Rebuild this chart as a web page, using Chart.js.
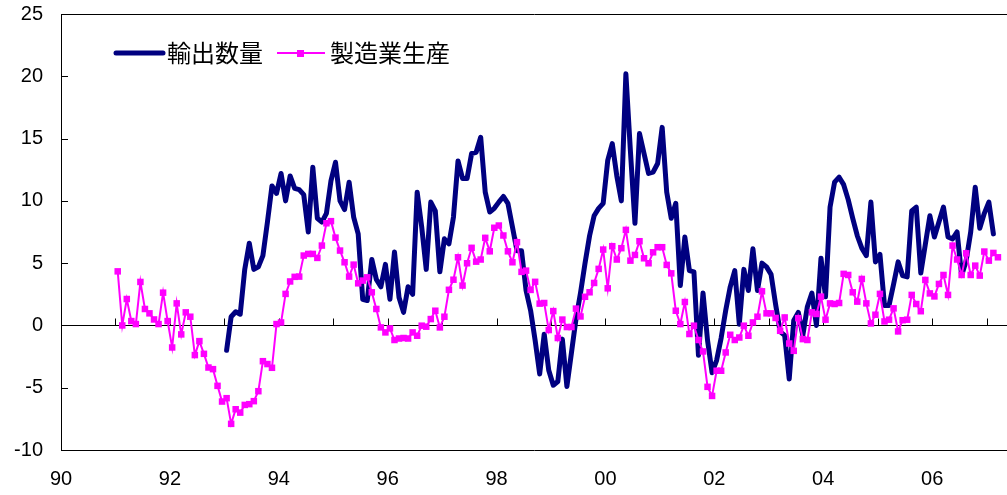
<!DOCTYPE html>
<html lang="ja">
<head>
<meta charset="utf-8">
<script src="https://cdn.jsdelivr.net/npm/chart.js@4.4.1/dist/chart.umd.min.js"></script>
<style>
  html, body { margin: 0; padding: 0; background: #fff; }
</style>
</head>
<body>
<canvas id="exportChart" width="1007" height="495"></canvas>
<script>
// 月次データ（前年比、%）。月の番号は 1990年1月 = 0
const seriesNames = ['輸出数量', '製造業生産'];
const exportStartMonth = 36;       // 1993年1月
const productionStartMonth = 12;   // 1991年1月

const exportVolume = [
  -2.0, 0.7, 1.1, 0.9, 4.5, 6.6, 4.5, 4.7, 5.6, 8.3, 11.2, 10.6,
  12.2, 10.0, 12.0, 11.0, 10.9, 10.5, 7.5, 12.7, 8.6, 8.3, 9.0, 11.6,
  13.1, 10.0, 9.3, 11.5, 8.7, 7.35, 2.1, 2.0, 5.3, 3.7, 3.1, 4.9,
  2.1, 5.9, 2.25, 1.05, 3.1, 2.5, 10.7, 7.9, 4.5, 9.9, 9.2, 4.3,
  6.95, 6.55, 8.7, 13.2, 11.8, 11.8, 13.8, 13.9, 15.1, 10.7, 9.1, 9.4,
  9.9, 10.35, 9.8, 7.9, 6.0, 6.0, 2.8, 1.2, -1.2, -3.9, -0.7, -3.6,
  -4.8, -4.5, -1.1, -4.9, -2.2, 0.5, 2.6, 5.0, 7.2, 8.8, 9.4, 9.8,
  13.25, 14.6, 12.0, 10.0, 20.2, 14.0, 8.2, 15.4, 13.8, 12.2, 12.3, 13.0,
  15.9, 10.7, 8.6, 9.8, 3.2, 7.1, 4.4, 4.3, -2.4, 2.6, -1.2, -3.8,
  -2.8, -1.0, 1.2, 3.1, 4.4, 0.1, 4.5, 2.8, 6.15, 2.8, 5.0, 4.7,
  4.1, 1.7, -0.5, -0.8, -4.3, 0.4, 1.05, -0.8, 1.5, 2.6, 0.0, 5.4,
  2.3, 9.5, 11.5, 11.9, 11.3, 10.1, 8.6, 7.2, 6.2, 5.6, 9.9, 5.1,
  5.7, 1.6, 1.6, 3.3, 5.1, 4.0, 3.9, 9.2, 9.5, 4.2, 6.5, 8.8,
  7.1, 8.3, 9.5, 7.1, 6.95, 7.5, 4.0, 5.2, 7.5, 11.1, 7.8, 9.0,
  9.9, 7.35
];

const production = [
  4.34, 0.0, 2.12, 0.35, 0.11, 3.49, 1.32, 0.97, 0.48, 0.11, 2.63, 0.35,
  -1.77, 1.77, -0.72, 1.05, 0.70, -2.38, -1.26, -2.28, -3.38, -3.51, -4.85, -6.11,
  -5.84, -7.9, -6.73, -7.0, -6.38, -6.32, -6.08, -5.28, -2.87, -3.1, -3.4, 0.11,
  0.24, 2.53, 3.53, 3.9, 3.92, 5.61, 5.74, 5.74, 5.42, 6.41, 8.2, 8.37,
  7.05, 6.01, 5.07, 3.92, 4.88, 3.38, 3.6, 3.86, 2.66, 1.32, -0.16, -0.56,
  -0.24, -1.17, -1.05, -1.01, -1.05, -0.56, -0.83, -0.02, -0.1, 0.51, 1.18, -0.16,
  0.7, 2.86, 3.67, 5.47, 3.2, 4.99, 6.23, 5.12, 5.29, 7.03, 5.95, 7.84,
  8.02, 7.22, 5.95, 5.07, 6.68, 4.3, 4.4, 2.85, 3.5, 1.75, 1.8, -0.37,
  1.15, -1.01, 0.47, -0.13, -0.13, 1.35, 0.72, 2.3, 2.66, 3.41, 4.54, 6.09,
  2.98, 6.36, 5.29, 6.2, 7.67, 5.2, 5.66, 6.76, 5.39, 4.99, 5.87, 6.28,
  6.28, 4.86, 4.18, 1.18, 0.11, 1.88, -0.69, -0.02, -1.17, -2.09, -4.93, -5.66,
  -3.64, -3.64, -2.17, -0.75, -1.17, -0.97, -0.02, -0.83, 0.24, 0.7, 2.74, 0.97,
  0.97, 0.6, -0.43, 0.64, -1.45, -2.04, 0.58, -1.1, -1.17, 1.05, 0.92, 2.31,
  0.46, 1.77, 1.72, 1.8, 4.14, 4.05, 2.66, 1.91, 3.73, 1.77, 0.16, 0.86,
  2.53, 0.32, 0.46, 1.37, -0.48, 0.42, 0.46, 2.45, 1.72, 1.14, 3.65, 2.57,
  2.33, 3.33, 4.05, 2.45, 6.41, 5.29, 4.05, 5.79, 4.05, 4.8, 4.0, 5.93,
  5.2, 5.82, 5.47
];

const xTickMonths = [0, 24, 48, 72, 96, 120, 144, 168, 192];
const xTickLabels = ['90', '92', '94', '96', '98', '00', '02', '04', '06'];
const yearMarkMonths = [12, 24, 36, 48, 60, 72, 84, 96, 108, 120, 132, 144, 156, 168, 180, 192, 204];

const NAVY = '#000080';
const MAGENTA = '#ff00ff';
const TICK_FONT = { family: '"Liberation Sans", Arial, sans-serif', size: 20 };

// 各月の点はその月の中央に置く
function toPoints(values, startMonth) {
  return values.map((v, i) => ({ x: startMonth + i + 0.5, y: v }));
}

// 目盛りラベルの余白で描画域が縮まないようにする
function noScalePadding(s) {
  s.paddingLeft = 0;
  s.paddingRight = 0;
  s.paddingTop = 0;
  s.paddingBottom = 0;
}

// 軸の内向き目盛りと凡例
const decorations = {
  id: 'decorations',
  beforeDatasetsDraw(chart) {
    const { ctx, chartArea } = chart;
    const xs = chart.scales.x, ys = chart.scales.y;
    ctx.save();
    ctx.strokeStyle = '#000';
    ctx.lineWidth = 1;
    ctx.beginPath();
    ys.ticks.forEach(t => {
      const py = Math.round(ys.getPixelForValue(t.value)) + 0.5;
      ctx.moveTo(chartArea.left, py);
      ctx.lineTo(chartArea.left + 7, py);
    });
    const zeroY = Math.round(ys.getPixelForValue(0)) + 0.5;
    yearMarkMonths.forEach(m => {
      const px = Math.round(xs.getPixelForValue(m)) + 0.5;
      ctx.moveTo(px, zeroY);
      ctx.lineTo(px, zeroY - 7);
    });
    ctx.stroke();
    ctx.restore();
  },
  afterDraw(chart) {
    const ctx = chart.ctx;
    const y = 53;
    ctx.save();
    ctx.lineCap = 'round';
    ctx.strokeStyle = NAVY;
    ctx.lineWidth = 5;
    ctx.beginPath();
    ctx.moveTo(116, y);
    ctx.lineTo(163, y);
    ctx.stroke();
    ctx.lineCap = 'butt';
    ctx.strokeStyle = MAGENTA;
    ctx.lineWidth = 2;
    ctx.beginPath();
    ctx.moveTo(277, y);
    ctx.lineTo(325, y);
    ctx.stroke();
    ctx.fillStyle = MAGENTA;
    ctx.fillRect(297, y - 3, 7, 7);
    ctx.fillStyle = '#000';
    ctx.font = '24px "Noto Sans CJK JP"';
    ctx.textBaseline = 'middle';
    ctx.textAlign = 'left';
    ctx.fillText(seriesNames[0], 167, y);
    ctx.fillText(seriesNames[1], 330, y);
    ctx.restore();
  }
};

const ctx = document.getElementById('exportChart').getContext('2d');
new Chart(ctx, {
  type: 'line',
  data: {
    datasets: [
      {
        label: seriesNames[0],
        data: toPoints(exportVolume, exportStartMonth),
        borderColor: NAVY,
        borderWidth: 5,
        borderJoinStyle: 'round',
        borderCapStyle: 'round',
        pointRadius: 0,
        tension: 0,
        order: 2
      },
      {
        label: seriesNames[1],
        data: toPoints(production, productionStartMonth),
        borderColor: MAGENTA,
        backgroundColor: MAGENTA,
        borderWidth: 2,
        pointStyle: 'rect',
        pointRadius: 4.6,
        pointBorderWidth: 0,
        pointBackgroundColor: MAGENTA,
        tension: 0,
        order: 1
      }
    ]
  },
  options: {
    responsive: false,
    animation: false,
    layout: { autoPadding: false, padding: { top: 14, left: 0, right: 0, bottom: 0 } },
    plugins: {
      legend: { display: false },
      tooltip: { enabled: false }
    },
    scales: {
      x: {
        type: 'linear',
        min: 0,
        max: 208.5,
        grid: {
          display: true,
          drawOnChartArea: false,
          drawTicks: true,
          tickLength: 17,
          tickColor: 'rgba(0,0,0,0)'
        },
        border: { display: true, color: '#000', width: 1 },
        afterBuildTicks: s => { s.ticks = xTickMonths.map(v => ({ value: v })); },
        afterFit: s => { s.height = 45; noScalePadding(s); },
        ticks: {
          autoSkip: false,
          maxRotation: 0,
          padding: 0,
          color: '#000',
          font: TICK_FONT,
          callback: (value, index) => xTickLabels[index]
        }
      },
      y: {
        min: -10,
        max: 25,
        afterFit: s => { s.width = 61; noScalePadding(s); },
        grid: {
          drawTicks: true,
          tickLength: 18,
          tickColor: 'rgba(0,0,0,0)',
          lineWidth: 1,
          color: c => (c.tick && (c.tick.value === 0 || c.tick.value === 25)) ? '#000' : 'rgba(0,0,0,0)'
        },
        border: { display: true, color: '#000', width: 1 },
        ticks: {
          stepSize: 5,
          padding: 0,
          color: '#000',
          font: TICK_FONT
        }
      }
    }
  },
  plugins: [decorations]
});
</script>
</body>
</html>
